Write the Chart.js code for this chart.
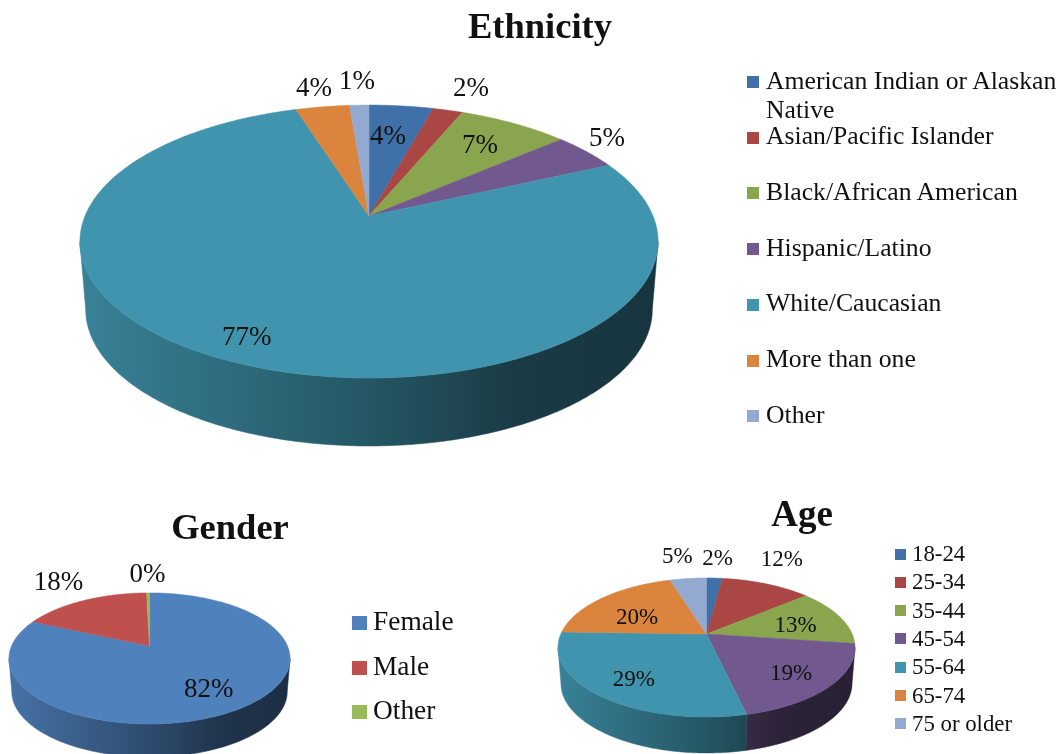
<!DOCTYPE html>
<html lang="en">
<head>
<meta charset="UTF-8">
<title>Ethnicity, Gender and Age</title>
<style>
    body { margin: 0; background: #fff; overflow: hidden; font-family: "Liberation Serif", serif; color: #111; }
    #page { position: relative; width: 1062px; height: 754px; overflow: hidden; filter: blur(0.45px); }
    canvas { position: absolute; left: 0; top: 0; }
    .title { position: absolute; font-weight: bold; font-size: 36.5px; line-height: 40px; transform: translateX(-50%); white-space: nowrap; }
    .row { position: absolute; white-space: nowrap; }
    .box { position: absolute; }
</style>
<script src="https://cdn.jsdelivr.net/npm/chart.js"></script>
</head>
<body>
<div id="page">
    <canvas id="ethnicity" width="1062" height="754"></canvas>
    <canvas id="gender" width="1062" height="754"></canvas>
    <canvas id="age" width="1062" height="754"></canvas>
</div>
<script>
// values, printed labels are these rounded
const ethnicityLabels = [['American Indian or Alaskan', 'Native'], 'Asian/Pacific Islander', 'Black/African American', 'Hispanic/Latino', 'White/Caucasian', 'More than one', 'Other'];
const ethnicityValues = [4.3, 2.0, 7.4, 4.5, 76.9, 3.6, 1.3];
const ethnicityColors = ['#4070a8', '#aa4643', '#89a54e', '#71588f', '#4094ad', '#db843d', '#93a9cf'];

const genderLabels = ['Female', 'Male', 'Other'];
const genderValues = [81.8, 17.8, 0.4];
const genderColors = ['#4f81bd', '#c0504d', '#9bbb59'];

const ageLabels = ['18-24', '25-34', '35-44', '45-54', '55-64', '65-74', '75 or older'];
const ageValues = [2.1, 11.8, 13.3, 19.2, 29.1, 19.7, 4.8];
const ageColors = ethnicityColors;

// how the flat pie is tilted: apex, radii, perspective, thickness
const ethnicityShape = { cx: 369, cy: 216, rx: 284, ry: 131.7, k: 0.187, depth: 68, font: 27 };
const genderShape = { cx: 149.5, cy: 646, rx: 138, ry: 63.2, k: 0.19, depth: 33, font: 27 };
const ageShape = { cx: 706.5, cy: 634, rx: 145.7, ry: 66.9, k: 0.194, depth: 36, font: 23 };

// percent label spots: distance from apex (1 = rim) and turn from slice middle in degrees
const ethnicityLabelRadius = [0.70, 1.28, 0.75, 1.16, 0.86, 1.225, 1.28];
const ethnicityLabelTurn = [-1.5, 1, -0.5, -3, 1.4, 0, 0];
const genderLabelRadius = [0.705, 1.52, 1.48];
const genderLabelTurn = [0, 0.8, 0];
const ageLabelRadius = [1.49, 1.6, 0.65, 0.73, 0.73, 0.58, 1.55];
const ageLabelTurn = [0, -4.3, 1.9, 1.8, -2.1, -7.3, -1];

function project(s, theta, r, scaleX, drop) {
    const x = r * Math.sin(theta);
    const y = -r * Math.cos(theta);
    const w = 1 - s.k * y;
    return [s.cx + scaleX * s.rx * x / w, s.cy + s.ry * y / w + drop];
}

function shade(hex, f) {
    const n = parseInt(hex.slice(1), 16);
    const c = [n >> 16, (n >> 8) & 255, n & 255].map(v => Math.round(v * f));
    return `rgb(${c[0]},${c[1]},${c[2]})`;
}

// the side of the pie: only the rim part that faces the viewer
function drawSide(ctx, s, start, end, color) {
    const edge = Math.acos(-s.k);
    const a = Math.max(start, edge);
    const b = Math.min(end, 2 * Math.PI - edge);
    if (b <= a) return;
    const left = s.cx - s.rx * 1.02;
    const width = s.rx * 2.04;
    const grad = ctx.createLinearGradient(left, 0, left + width, 0);
    grad.addColorStop(0, shade(color, 0.88));
    grad.addColorStop(0.5, shade(color, 0.58));
    grad.addColorStop(0.75, shade(color, 0.4));
    grad.addColorStop(1, shade(color, 0.36));
    ctx.beginPath();
    const step = (b - a) / 200;
    for (let i = 0; i <= 200; i++) {
        const p = project(s, a + i * step, 1, 1, 0);
        ctx.lineTo(p[0], p[1]);
    }
    for (let i = 200; i >= 0; i--) {
        const p = project(s, a + i * step, 1, 0.98, s.depth);
        ctx.lineTo(p[0], p[1]);
    }
    ctx.closePath();
    ctx.fillStyle = grad;
    ctx.strokeStyle = grad;
    ctx.lineWidth = 0.5;
    ctx.fill();
    ctx.stroke();
}

function drawTop(ctx, s, start, end, color) {
    ctx.beginPath();
    ctx.moveTo(s.cx, s.cy);
    const steps = Math.max(2, Math.ceil((end - start) * 100));
    for (let i = 0; i <= steps; i++) {
        const p = project(s, start + (end - start) * i / steps, 1, 1, 0);
        ctx.lineTo(p[0], p[1]);
    }
    ctx.closePath();
    ctx.fillStyle = color;
    ctx.strokeStyle = color;
    ctx.lineWidth = 0.5;
    ctx.fill();
    ctx.stroke();
}

// chart.js works out the slice angles, this plugin paints them tilted
const tiltedPie = {
    id: 'tiltedPie',
    beforeDatasetDraw(chart, args, opts) {
        const ctx = chart.ctx;
        const s = opts.shape;
        const arcs = chart.getDatasetMeta(0).data;
        const angles = arcs.map(arc => {
            const p = arc.getProps(['startAngle', 'endAngle'], true);
            return [p.startAngle + Math.PI / 2, p.endAngle + Math.PI / 2];
        });
        arcs.forEach((arc, i) => drawSide(ctx, s, angles[i][0], angles[i][1], arc.options.backgroundColor));
        arcs.forEach((arc, i) => drawTop(ctx, s, angles[i][0], angles[i][1], arc.options.backgroundColor));
        ctx.save();
        ctx.fillStyle = '#111';
        ctx.font = s.font + 'px "Liberation Serif"';
        ctx.textAlign = 'center';
        ctx.textBaseline = 'middle';
        arcs.forEach((arc, i) => {
            const mid = (angles[i][0] + angles[i][1]) / 2 + opts.labelTurn[i] * Math.PI / 180;
            const p = project(s, mid, opts.labelRadius[i], 1, 0);
            ctx.fillText(Math.round(chart.data.datasets[0].data[i]) + '%', p[0], p[1] + 2);
        });
        ctx.restore();
        return false;
    }
};

function makePie(id, labels, values, colors, shape, labelRadius, labelTurn) {
    new Chart(document.getElementById(id), {
        type: 'pie',
        data: {
            labels: labels,
            datasets: [{ data: values, backgroundColor: colors, borderWidth: 0 }]
        },
        options: {
            responsive: false,
            animation: false,
            plugins: {
                legend: { display: false },
                tooltip: { enabled: false },
                tiltedPie: { shape: shape, labelRadius: labelRadius, labelTurn: labelTurn }
            }
        },
        plugins: [tiltedPie]
    });
}

function addTitle(text, x, y, size) {
    const el = document.createElement('div');
    el.className = 'title';
    el.textContent = text;
    el.style.left = x + 'px';
    el.style.top = y + 'px';
    el.style.fontSize = size + 'px';
    document.getElementById('page').appendChild(el);
}

function addLegend(labels, colors, o) {
    const page = document.getElementById('page');
    labels.forEach((label, i) => {
        const y = o.y + i * o.step;
        const box = document.createElement('div');
        box.className = 'box';
        box.style.cssText = `left:${o.boxX}px;top:${y - o.boxH / 2}px;width:${o.boxW}px;height:${o.boxH}px;background:${colors[i]}`;
        page.appendChild(box);
        const row = document.createElement('div');
        row.className = 'row';
        row.style.cssText = `left:${o.textX}px;top:${y - o.line / 2 + o.lift}px;font-size:${o.size}px;line-height:${o.line}px`;
        row.innerHTML = [].concat(label).join('<br>');
        page.appendChild(row);
    });
}

makePie('ethnicity', ethnicityLabels.map(l => [].concat(l).join(' ')), ethnicityValues, ethnicityColors, ethnicityShape, ethnicityLabelRadius, ethnicityLabelTurn);
makePie('gender', genderLabels, genderValues, genderColors, genderShape, genderLabelRadius, genderLabelTurn);
makePie('age', ageLabels, ageValues, ageColors, ageShape, ageLabelRadius, ageLabelTurn);

addTitle('Ethnicity', 540, 6, 36.5);
addTitle('Gender', 230, 507, 36.5);
addTitle('Age', 802, 494, 37);

addLegend(ethnicityLabels, ethnicityColors, { y: 82, step: 55.7, boxX: 747, boxW: 12, boxH: 12, textX: 766, size: 25.7, line: 29, lift: -2 });
addLegend(genderLabels, genderColors, { y: 623, step: 44.5, boxX: 352, boxW: 15, boxH: 14, textX: 373, size: 27.4, line: 30, lift: -2 });
addLegend(ageLabels, ageColors, { y: 554, step: 28.3, boxX: 895, boxW: 11, boxH: 11, textX: 912, size: 22.8, line: 26, lift: 0 });
</script>
</body>
</html>
